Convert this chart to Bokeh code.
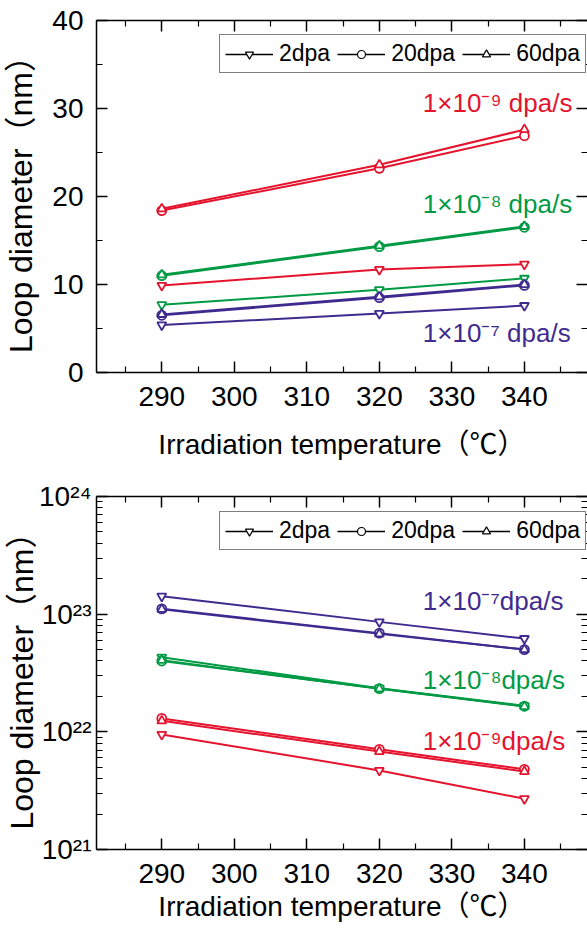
import numpy as np
from bokeh.plotting import figure
from bokeh.layouts import column
from bokeh.models import (FixedTicker, LinearAxis, LogAxis, Legend, LegendItem,
                          Label, Range1d, CustomJSTickFormatter)
from bokeh.embed import file_html
from bokeh.resources import INLINE

# ---------------- data ----------------
temps = [290, 320, 340]

x_ticks = [290, 300, 310, 320, 330, 340]
x_minor = [285, 295, 305, 315, 325, 335, 345]

top_y_ticks = [0, 10, 20, 30, 40]
top_y_minor = [5, 15, 25, 35]

bot_y_ticks = [1e21, 1e22, 1e23, 1e24]
bot_y_tick_labels = ["10²¹", "10²²", "10²³", "10²⁴"]
bot_y_minor = [k * 10.0 ** n for n in (21, 22, 23) for k in range(2, 10)]

dpa_labels = ["2dpa", "20dpa", "60dpa"]
dpa_markers = ["inverted_triangle", "circle", "triangle"]

rate_names = ["1e-9", "1e-8", "1e-7"]
rate_colors = ["#E5132D", "#009A44", "#3F2A8F"]
top_rate_labels = ["1×10⁻⁹ dpa/s", "1×10⁻⁸ dpa/s", "1×10⁻⁷ dpa/s"]
bot_rate_labels = ["1×10⁻⁹dpa/s", "1×10⁻⁸dpa/s", "1×10⁻⁷dpa/s"]

# top chart: loop diameter (nm)
top_red_2dpa = [9.9, 11.7, 12.3]
top_red_20dpa = [18.4, 23.2, 26.9]
top_red_60dpa = [18.6, 23.6, 27.6]
top_green_2dpa = [7.7, 9.4, 10.7]
top_green_20dpa = [11.0, 14.3, 16.5]
top_green_60dpa = [11.1, 14.4, 16.6]
top_purple_2dpa = [5.4, 6.7, 7.6]
top_purple_20dpa = [6.5, 8.5, 9.9]
top_purple_60dpa = [6.6, 8.6, 10.0]

# bottom chart (log scale)
bot_red_2dpa = [9.5e21, 4.7e21, 2.7e21]
bot_red_20dpa = [1.30e22, 7.1e21, 4.8e21]
bot_red_60dpa = [1.24e22, 6.8e21, 4.6e21]
bot_green_2dpa = [4.3e22, 2.35e22, 1.67e22]
bot_green_20dpa = [4.0e22, 2.33e22, 1.65e22]
bot_green_60dpa = [4.05e22, 2.32e22, 1.64e22]
bot_purple_2dpa = [1.42e23, 8.6e22, 6.2e22]
bot_purple_20dpa = [1.11e23, 6.9e22, 5.0e22]
bot_purple_60dpa = [1.10e23, 6.8e22, 5.0e22]

# annotation anchor positions (data units)
top_label_x = 326
top_label_y = [30.6, 19.2, 4.5]
bot_label_x = 326
bot_label_y = [8.4e21, 2.76e22, 1.3e23]

top_series = [[top_red_2dpa, top_red_20dpa, top_red_60dpa],
              [top_green_2dpa, top_green_20dpa, top_green_60dpa],
              [top_purple_2dpa, top_purple_20dpa, top_purple_60dpa]]
bot_series = [[bot_red_2dpa, bot_red_20dpa, bot_red_60dpa],
              [bot_green_2dpa, bot_green_20dpa, bot_green_60dpa],
              [bot_purple_2dpa, bot_purple_20dpa, bot_purple_60dpa]]

FONT = "'Liberation Sans', 'Noto Sans CJK JP', sans-serif"
X_LABEL = "Irradiation temperature（℃）"
Y_LABEL = "Loop diameter（nm）"


def style_axis(ax, labels=True):
    ax.axis_line_width = 1.5
    ax.axis_line_color = "black"
    ax.major_tick_line_width = 1.5
    ax.minor_tick_line_width = 1.2
    ax.major_tick_line_color = "black"
    ax.minor_tick_line_color = "black"
    ax.major_tick_in = 11
    ax.major_tick_out = 0
    ax.minor_tick_in = 6
    ax.minor_tick_out = 0
    ax.major_label_text_font = FONT
    ax.major_label_text_color = "black"
    ax.axis_label_text_font = FONT
    ax.axis_label_text_font_style = "normal"
    ax.axis_label_text_color = "black"
    if labels:
        ax.major_label_text_font_size = "28px"
        ax.axis_label_text_font_size = "28px"
    else:
        ax.formatter = CustomJSTickFormatter(code="return ''")
        ax.major_label_text_font_size = "1px"
        ax.major_label_standoff = 0


def make_fig(height, log, yr, yticks, yminor, min_top, min_bottom,
             series, rate_labels, lab_x, lab_y, x_std, x_lab_std, y_std, y_lab_std):
    p = figure(width=587, height=height,
               x_range=Range1d(281, 348.7), y_range=Range1d(*yr),
               y_axis_type="log" if log else "linear",
               output_backend="svg", toolbar_location=None,
               min_border_left=95, min_border_right=0,
               min_border_top=min_top, min_border_bottom=min_bottom)
    p.outline_line_color = None
    p.grid.visible = False
    p.background_fill_color = "white"
    p.border_fill_color = "white"

    xt = FixedTicker(ticks=x_ticks, minor_ticks=x_minor)
    yt = FixedTicker(ticks=yticks, minor_ticks=yminor)

    xa = p.xaxis[0]
    xa.ticker = xt
    style_axis(xa)
    xa.axis_label = X_LABEL
    xa.major_label_standoff = x_std
    xa.axis_label_standoff = x_lab_std

    ya = p.yaxis[0]
    ya.ticker = yt
    style_axis(ya)
    ya.axis_label = Y_LABEL
    ya.axis_label_text_font_size = "32px"
    ya.major_label_standoff = y_std
    ya.axis_label_standoff = y_lab_std
    if log:
        ya.major_label_overrides = {v: s for v, s in zip(bot_y_ticks, bot_y_tick_labels)}

    top_ax = LinearAxis(ticker=FixedTicker(ticks=x_ticks, minor_ticks=x_minor))
    style_axis(top_ax, labels=False)
    p.add_layout(top_ax, "above")

    if log:
        right_ax = LogAxis(ticker=FixedTicker(ticks=yticks, minor_ticks=yminor))
    else:
        right_ax = LinearAxis(ticker=FixedTicker(ticks=yticks, minor_ticks=yminor))
    style_axis(right_ax, labels=False)
    right_ax.axis_line_color = None
    p.add_layout(right_ax, "right")

    # data
    for ci, color in enumerate(rate_colors):
        for di, marker in enumerate(dpa_markers):
            vals = series[ci][di]
            p.line(temps, vals, line_color=color, line_width=2)
            p.scatter(temps, vals, marker=marker, size=9, line_color=color,
                      line_width=1.8, fill_color="white")

    # legend (black sample glyphs, no visible data)
    items = []
    for lab, marker in zip(dpa_labels, dpa_markers):
        rl = p.line(x=[np.nan], y=[np.nan], line_color="black", line_width=1.5)
        rm = p.scatter(x=[np.nan], y=[np.nan], marker=marker, size=8,
                       line_color="black", line_width=1.2, fill_color="white")
        items.append(LegendItem(label=lab, renderers=[rl, rm]))
    leg = Legend(items=items, orientation="horizontal", location=(123, 299),
                 border_line_color="black", border_line_width=1.5,
                 background_fill_color="white", background_fill_alpha=1,
                 label_text_font=FONT, label_text_font_size="23px",
                 label_text_color="black",
                 glyph_width=48, glyph_height=20, label_standoff=6,
                 spacing=7, padding=5, margin=0, label_height=20)
    p.add_layout(leg)

    for txt, color, yy in zip(rate_labels, rate_colors, lab_y):
        p.add_layout(Label(x=lab_x, y=yy, text=txt, text_color=color,
                           text_font=FONT, text_font_size="26px",
                           text_baseline="alphabetic", text_align="left"))
    return p


p1 = make_fig(470, False, (0, 40), top_y_ticks, top_y_minor, 20, 98,
              top_series, top_rate_labels, top_label_x, top_label_y,
              x_std=14, x_lab_std=20, y_std=13, y_lab_std=10)
p2 = make_fig(459, True, (1e21, 1e24), bot_y_ticks, bot_y_minor, 26, 80,
              bot_series, bot_rate_labels, bot_label_x, bot_label_y,
              x_std=14, x_lab_std=5, y_std=5, y_lab_std=-4)

layout = column(p1, p2, spacing=0)
open("out.html", "w").write(file_html(layout, INLINE))
